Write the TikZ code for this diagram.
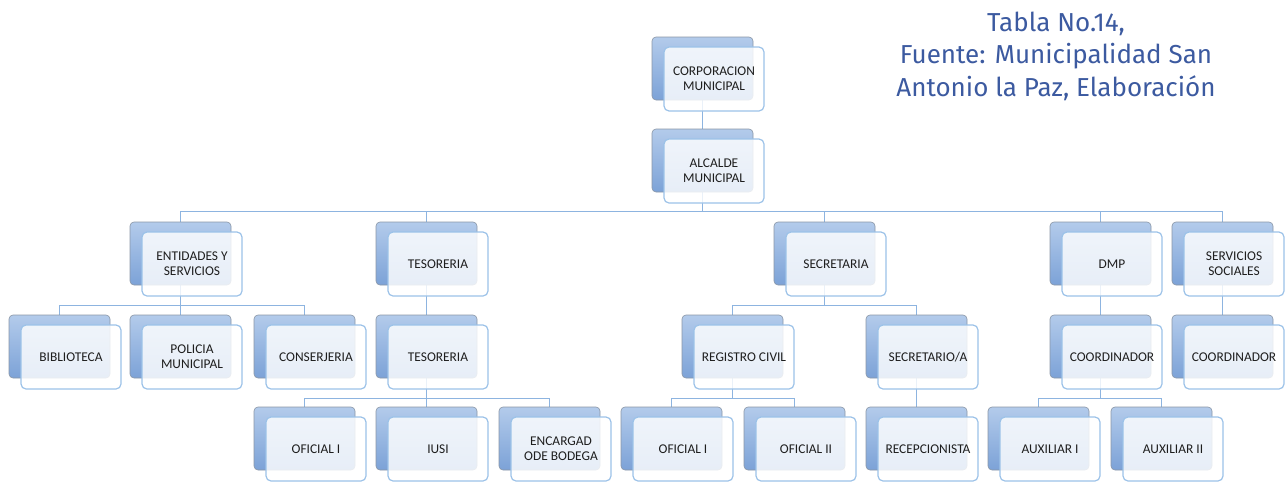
\documentclass[tikz,border=0pt]{standalone}
\usepackage{fontspec}
\setmainfont{Carlito}
\newfontfamily\titlefont{Fira Sans}
\usetikzlibrary{backgrounds}
\definecolor{backtop}{HTML}{B3CBEB}
\definecolor{backbot}{HTML}{7CA2D7}
\definecolor{backline}{HTML}{8A96A6}
\definecolor{frontline}{HTML}{9CC2E8}
\definecolor{connc}{HTML}{8DB4E0}
\definecolor{txt}{HTML}{1E1E1E}
\definecolor{titlec}{HTML}{3C5AA0}
\tikzset{
 backbox/.style={draw=backline, line width=0.6pt, rounded corners=4pt, top color=backtop, bottom color=backbot, minimum width=101pt, minimum height=63pt, inner sep=0pt},
 frontbox/.style={draw=frontline, line width=1.2pt, rounded corners=5pt, fill=white, fill opacity=0.82, text opacity=1, minimum width=100pt, minimum height=64pt, inner sep=0pt, align=center, font=\fontsize{13.4}{15}\selectfont, text=txt},
 connline/.style={draw=connc, line width=1.2pt}
}
\newcommand\orgbox[4]{%
 \node[backbox] (#1) at (#2+50.5,#3+31.5) {};
 \node[frontbox] (#1f) at (#2+62,#3+42) {#4};
}
\begin{document}
\begin{tikzpicture}[x=1pt,y=-1pt]
\useasboundingbox (0,0) rectangle (1286,483);
% row 0,1
\orgbox{corp}{652}{37}{CORPORACION\\MUNICIPAL}
\orgbox{alc}{652}{129}{ALCALDE\\MUNICIPAL}
% row 2
\orgbox{ent}{130}{222}{ENTIDADES Y\\SERVICIOS}
\orgbox{tes}{376}{222}{TESORERIA}
\orgbox{sec}{774}{222}{SECRETARIA}
\orgbox{dmp}{1050}{222}{DMP}
\orgbox{ss}{1172}{222}{SERVICIOS\\SOCIALES}
% row 3
\orgbox{bib}{9}{315}{BIBLIOTECA}
\orgbox{pol}{130}{315}{POLICIA\\MUNICIPAL}
\orgbox{con}{254}{315}{CONSERJERIA}
\orgbox{tesb}{376}{315}{TESORERIA}
\orgbox{reg}{682}{315}{REGISTRO CIVIL}
\orgbox{secr}{866}{315}{SECRETARIO/A}
\orgbox{coa}{1050}{315}{COORDINADOR}
\orgbox{cob}{1172}{315}{COORDINADOR}
% row 4
\orgbox{ofa}{254}{407}{OFICIAL I}
\orgbox{iusi}{376}{407}{IUSI}
\orgbox{enc}{499}{407}{ENCARGAD\\ODE BODEGA}
\orgbox{ofb}{621}{407}{OFICIAL I}
\orgbox{ofc}{744}{407}{OFICIAL II}
\orgbox{rec}{866}{407}{RECEPCIONISTA}
\orgbox{auxa}{988}{407}{AUXILIAR I}
\orgbox{auxb}{1111}{407}{AUXILIAR II}
% title
\node[font=\titlefont\fontsize{26}{32.5}\selectfont, text=titlec, align=center, inner sep=0pt] (title) at (1056,56) {Tabla No.14,\\Fuente: Municipalidad San\\Antonio la Paz, Elaboración};
\begin{pgfonlayer}{background}
\draw[connline] (corp.south) -- (alc.north);
% alcalde bus
\draw[connline] (alc.south) -- ++(0,19) coordinate (bus1);
\draw[connline] (ent.north) |- (bus1) -| (ss.north);
\draw[connline] (tes.north) -- (tes.north |- bus1);
\draw[connline] (sec.north) -- (sec.north |- bus1);
\draw[connline] (dmp.north) -- (dmp.north |- bus1);
% entidades bus
\draw[connline] (ent.south) -- ++(0,20) coordinate (bus2);
\draw[connline] (bib.north) |- (bus2) -| (con.north);
\draw[connline] (pol.north) -- (pol.north |- bus2);
% tesoreria
\draw[connline] (tes.south) -- (tesb.north);
\draw[connline] (tesb.south) -- ++(0,20) coordinate (bus3);
\draw[connline] (ofa.north) |- (bus3) -| (enc.north);
\draw[connline] (iusi.north) -- (iusi.north |- bus3);
% secretaria
\draw[connline] (sec.south) -- ++(0,20) coordinate (bus4);
\draw[connline] (reg.north) |- (bus4) -| (secr.north);
\draw[connline] (reg.south) -- ++(0,20) coordinate (bus5);
\draw[connline] (ofb.north) |- (bus5) -| (ofc.north);
\draw[connline] (secr.south) -- (rec.north);
% dmp
\draw[connline] (dmp.south) -- (coa.north);
\draw[connline] (coa.south) -- ++(0,20) coordinate (bus6);
\draw[connline] (auxa.north) |- (bus6) -| (auxb.north);
% servicios sociales
\draw[connline] (ss.south) -- (cob.north);
\end{pgfonlayer}
\end{tikzpicture}
\end{document}
